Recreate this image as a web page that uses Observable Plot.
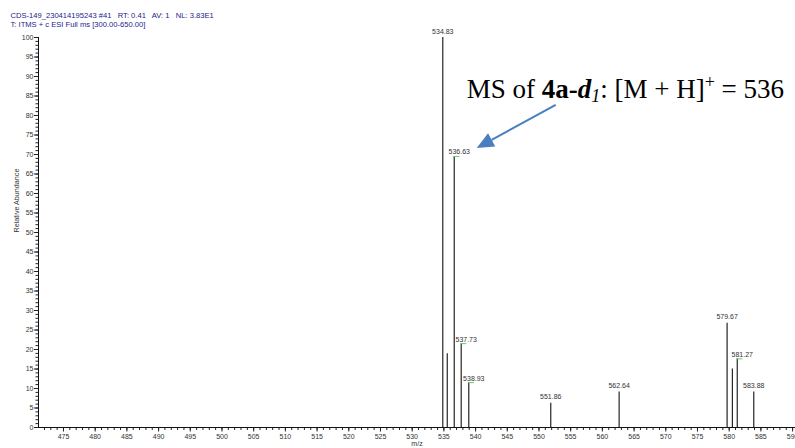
<!DOCTYPE html>
<html>
<head>
<meta charset="utf-8">
<script src="https://cdn.jsdelivr.net/npm/d3@7"></script>
<script src="https://cdn.jsdelivr.net/npm/@observablehq/plot@0.6"></script>
<style>
  html, body { margin: 0; padding: 0; background: white; overflow: hidden; }
  #chart { width: 795px; height: 448px; }
</style>
</head>
<body>
<div id="chart"></div>
<script>
// ---- data ----
const peakMz        = [534.83, 535.53, 536.63, 537.73, 538.93, 551.86, 562.64, 579.67, 580.50, 581.27, 583.88];
const peakAbundance = [100,    18.9,   69.5,   21.5,   11.5,   6.2,    9.1,    26.7,   15.0,   17.6,   9.1];
const peakLabels    = ["534.83", "", "536.63", "537.73", "538.93", "551.86", "562.64", "579.67", "", "581.27", "583.88"];

const xTickLabels = [475, 480, 485, 490, 495, 500, 505, 510, 515, 520, 525, 530, 535, 540, 545, 550, 555, 560, 565, 570, 575, 580, 585, 590];
const yTickLabels = [0, 5, 10, 15, 20, 25, 30, 35, 40, 45, 50, 55, 60, 65, 70, 75, 80, 85, 90, 95, 100];
const xDomain = [471.06, 590.46];
const yDomain = [0, 100];

const headerLines = [
  "CDS-149_230414195243 #41   RT: 0.41   AV: 1   NL: 3.83E1",
  "T: ITMS + c ESI Full ms [300.00-650.00]"
];
const yTitle = "Relative Abundance";
const xTitle = "m/z";
const annotatedMz = 536.63;

const peaks = peakMz.map((mz, i) => ({mz, ab: peakAbundance[i], label: peakLabels[i]}));
// Labels crowded by a taller neighbour just to the left are nudged right (as in Xcalibur)
peaks.forEach(p => {
  p.shifted = peaks.some(q => q !== p && q.mz < p.mz && p.mz - q.mz < 2 && q.ab > p.ab && q.label);
});
const labeled = peaks.filter(p => p.label);
const shiftedPeaks = labeled.filter(p => p.shifted);
const plainPeaks = labeled.filter(p => !p.shifted);

const minorX = d3.range(472, 591, 1);
const minorY = d3.range(0, 101, 1);

const chart = Plot.plot({
  width: 795,
  height: 448,
  marginLeft: 38,
  marginRight: 0,
  marginTop: 37,
  marginBottom: 21,
  style: {fontFamily: "'Liberation Sans', Arial, sans-serif", fontSize: "7px", color: "#222", background: "white"},
  x: {domain: xDomain, label: null},
  y: {domain: yDomain, label: null},
  marks: [
    // minor / major ticks
    Plot.axisX({ticks: minorX, tickSize: 3, tickFormat: () => "", label: null, stroke: "#222"}),
    Plot.axisX({ticks: xTickLabels, tickSize: 4.5, tickPadding: 2, label: null, stroke: "#222", fill: "#333", fontSize: 7}),
    Plot.axisY({ticks: minorY, tickSize: 2.5, tickFormat: () => "", label: null, stroke: "#222"}),
    Plot.axisY({ticks: yTickLabels, tickSize: 4, tickPadding: 1, label: null, stroke: "#222", fill: "#333", fontSize: 7}),
    // axis lines
    Plot.ruleY([yDomain[0]], {stroke: "#111", strokeWidth: 1}),
    Plot.ruleX([xDomain[0]], {stroke: "#111", strokeWidth: 1}),
    // stick spectrum
    Plot.ruleX(peaks, {x: "mz", y1: 0, y2: "ab", stroke: "#111", strokeWidth: 1.1}),
    // green label leaders
    Plot.ruleY(shiftedPeaks, {y: "ab", x1: "mz", x2: d => d.mz + 0.9, stroke: "#6cc86a", strokeWidth: 1}),
    // peak labels
    Plot.text(plainPeaks, {x: "mz", y: "ab", text: "label", dy: -4, lineAnchor: "bottom", fontSize: 7, fill: "#333"}),
    Plot.text(shiftedPeaks, {x: "mz", y: "ab", text: "label", dy: -2, dx: 5, lineAnchor: "bottom", fontSize: 7, fill: "#333"}),
    // header
    Plot.text([headerLines[0]], {frameAnchor: "top-left", dx: -28, dy: -22, textAnchor: "start", lineAnchor: "middle", fontSize: 7.6, fill: "#23238c"}),
    Plot.text([headerLines[1]], {frameAnchor: "top-left", dx: -28, dy: -12.5, textAnchor: "start", lineAnchor: "middle", fontSize: 7.6, fill: "#23238c"}),
    // axis titles
    Plot.text([yTitle], {frameAnchor: "left", dx: -22, rotate: -90, fontSize: 7.2, fill: "#333"}),
    Plot.text([xTitle], {frameAnchor: "bottom", dy: 18, fontSize: 7, fill: "#333"})
  ]
});
document.getElementById("chart").appendChild(chart);

// ---- annotation: label text and arrow pointing at the [M+H]+ peak ----
const svg = d3.select(chart);
const sx = chart.scale("x"), sy = chart.scale("y");
const target = peaks.find(p => p.mz === annotatedMz);
const tipX = sx.apply(target.mz) + 23, tipY = sy.apply(target.ab) - 8;
const tailX = tipX + 79, tailY = tipY - 43;

const ang = Math.atan2(tipY - tailY, tipX - tailX);
const headLen = 17, headHalf = 7.5;
const bx = tipX - headLen * Math.cos(ang), by = tipY - headLen * Math.sin(ang);
const px = -Math.sin(ang) * headHalf, py = Math.cos(ang) * headHalf;
const arrowColor = "#4a7ebf";
svg.append("line")
  .attr("x1", tailX).attr("y1", tailY).attr("x2", bx).attr("y2", by)
  .attr("stroke", arrowColor).attr("stroke-width", 2);
svg.append("polygon")
  .attr("points", `${tipX},${tipY} ${bx + px},${by + py} ${bx - px},${by - py}`)
  .attr("fill", arrowColor);

const t = svg.append("text")
  .attr("x", tailX - 89).attr("y", 98)
  .attr("text-anchor", "start")
  .attr("font-family", "'Liberation Serif', 'Times New Roman', serif")
  .attr("font-size", 27)
  .attr("fill", "#000");
t.append("tspan").text("MS of ");
t.append("tspan").attr("font-weight", "bold").text("4a-");
t.append("tspan").attr("font-weight", "bold").attr("font-style", "italic").text("d");
t.append("tspan").attr("font-style", "italic").attr("font-size", 18).attr("dy", 4).text("1");
t.append("tspan").attr("dy", -4).text(": [M + H]");
t.append("tspan").attr("font-size", 18).attr("dy", -10).text("+");
t.append("tspan").attr("dy", 10).text(" = 536");
</script>
</body>
</html>
